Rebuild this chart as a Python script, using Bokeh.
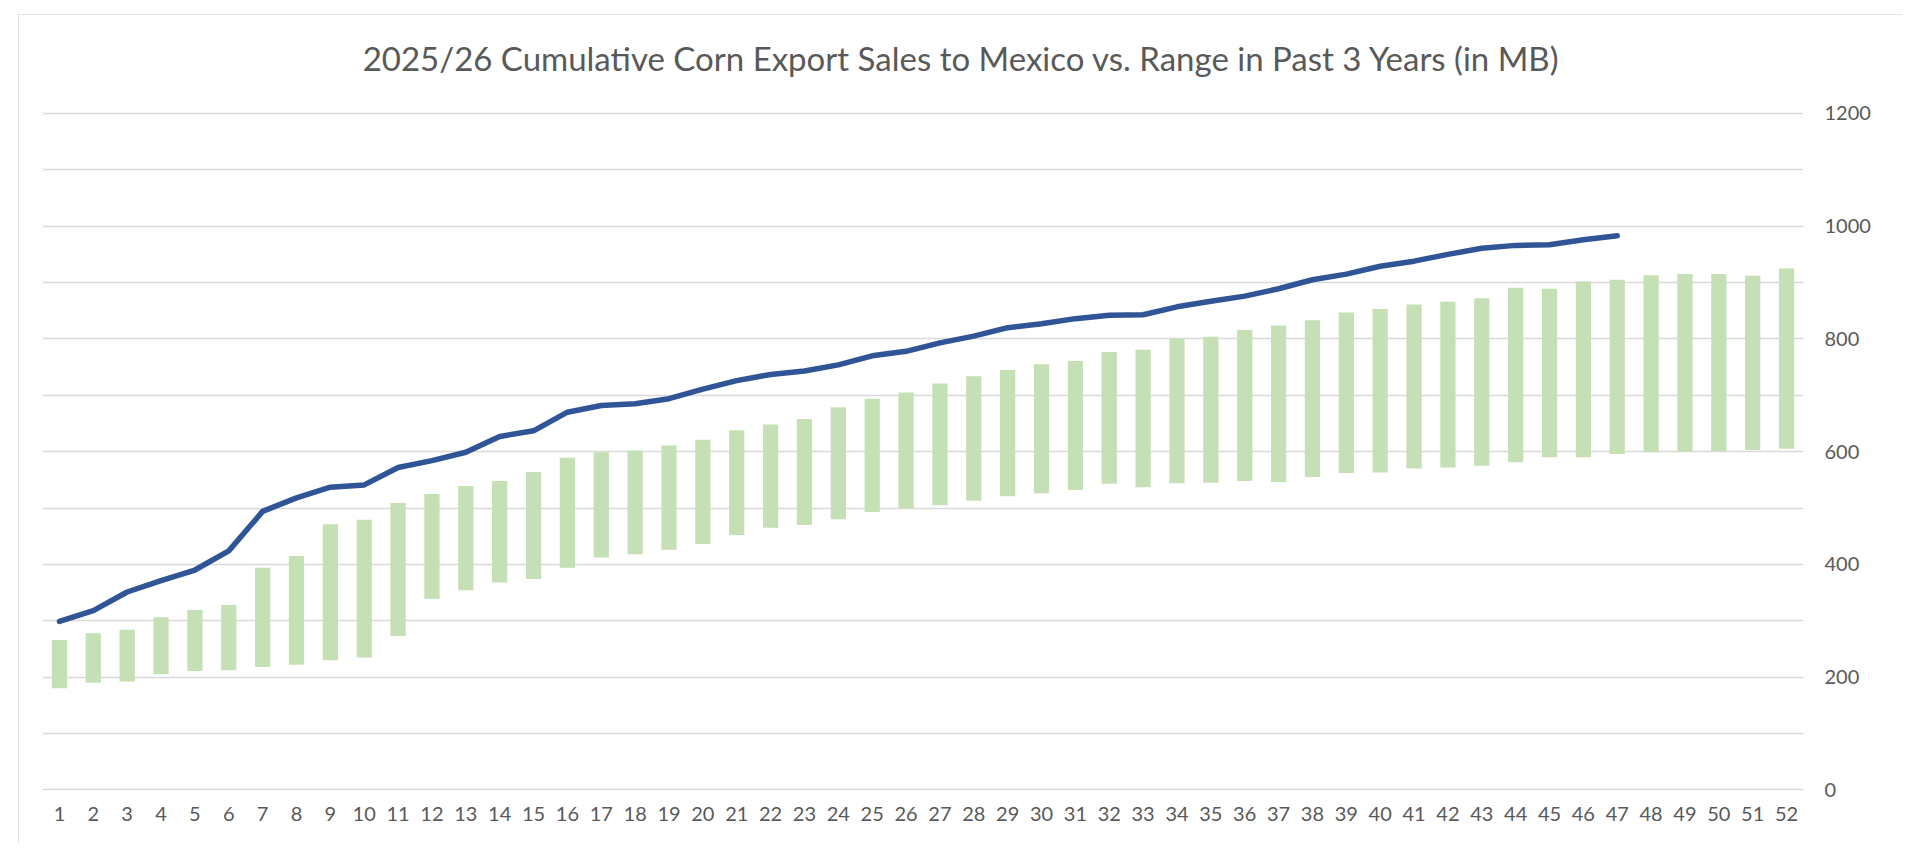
from bokeh.plotting import figure
from bokeh.models import FactorRange, FixedTicker
from bokeh.core.properties import value
from bokeh.embed import file_html
from bokeh.resources import INLINE

weeks = ["1", "2", "3", "4", "5", "6", "7", "8", "9", "10", "11", "12", "13",
         "14", "15", "16", "17", "18", "19", "20", "21", "22", "23", "24", "25", "26",
         "27", "28", "29", "30", "31", "32", "33", "34", "35", "36", "37", "38", "39",
         "40", "41", "42", "43", "44", "45", "46", "47", "48", "49", "50", "51", "52"]

range_low = [180, 190, 192, 205, 211, 212, 218, 222, 230, 235, 273, 339, 354,
             368, 374, 394, 412, 418, 426, 436, 452, 465, 470, 480, 493, 500,
             505, 513, 521, 526, 532, 543, 537, 544, 545, 548, 546, 555, 562,
             563, 570, 572, 575, 581, 590, 590, 596, 599, 600, 601, 603, 605]

range_high = [266, 278, 284, 306, 319, 328, 394, 415, 471, 479, 509, 525, 539,
              548, 564, 589, 599, 602, 611, 621, 638, 648, 658, 679, 694, 705,
              721, 734, 745, 755, 761, 777, 781, 800, 804, 816, 824, 833, 847,
              853, 861, 866, 872, 891, 889, 902, 905, 913, 915, 915, 912, 925]

current_2025 = [299, 318, 351, 371, 390, 424, 494, 518, 537, 541, 572, 584, 599,
                627, 637, 670, 682, 685, 694, 711, 726, 737, 743, 754, 770, 778,
                793, 805, 820, 827, 836, 842, 843, 857, 867, 876, 889, 905, 915,
                929, 938, 950, 961, 966, 967, 976, 983]

y_ticks = [0, 200, 400, 600, 800, 1000, 1200]
grid_ticks = [0, 100, 200, 300, 400, 500, 600, 700, 800, 900, 1000, 1100, 1200]

TITLE = "2025/26 Cumulative Corn Export Sales to Mexico vs. Range in Past 3 Years (in MB)"
TEXT = "#595959"
FONT = "Lato"

# the frame reaches up into the title area; only 0..1200 carry ticks and grid lines
p = figure(x_range=FactorRange(*weeks), y_range=(-1.2, 1365),
           width=1884, height=829, y_axis_location="right",
           output_backend="svg", toolbar_location=None,
           min_border_left=24, min_border_right=99,
           min_border_top=6, min_border_bottom=53)
p.margin = (14, 0, 0, 18)
p.styles = {"outline": "2px solid #d9d9d9", "outline-offset": "-2px"}
p.outline_line_color = None
p.background_fill_color = "white"
p.border_fill_color = "white"

p.vbar(x=weeks, bottom=range_low, top=range_high, width=0.45,
       fill_color="#C5E0B4", line_color=None)
p.line(x=weeks[:len(current_2025)], y=current_2025, line_color="#2F5597",
       line_width=5.5, line_join="round", line_cap="round")

# chart title, centred on the whole chart box
p.text(x=[27.14], y=[1299], text=[TITLE], text_font=value(FONT),
       text_font_size="33px", text_align="center", text_baseline="middle",
       text_color=TEXT)

p.xgrid.grid_line_color = None
p.ygrid.ticker = FixedTicker(ticks=grid_ticks)
p.ygrid.grid_line_color = "#D9D9D9"
p.ygrid.grid_line_width = 1.5

p.yaxis.ticker = FixedTicker(ticks=y_ticks)
for ax in (p.xaxis[0], p.yaxis[0]):
    ax.axis_line_color = None
    ax.major_tick_line_color = None
    ax.minor_tick_line_color = None
    ax.major_tick_out = 0
    ax.major_tick_in = 0
    ax.major_label_text_font = FONT
    ax.major_label_text_font_size = "20px"
    ax.major_label_text_color = TEXT
p.yaxis.major_label_standoff = 21
p.xaxis.major_label_standoff = 16
p.xaxis.group_text_font_size = "0px"

open("out.html", "w").write(file_html(p, INLINE))
